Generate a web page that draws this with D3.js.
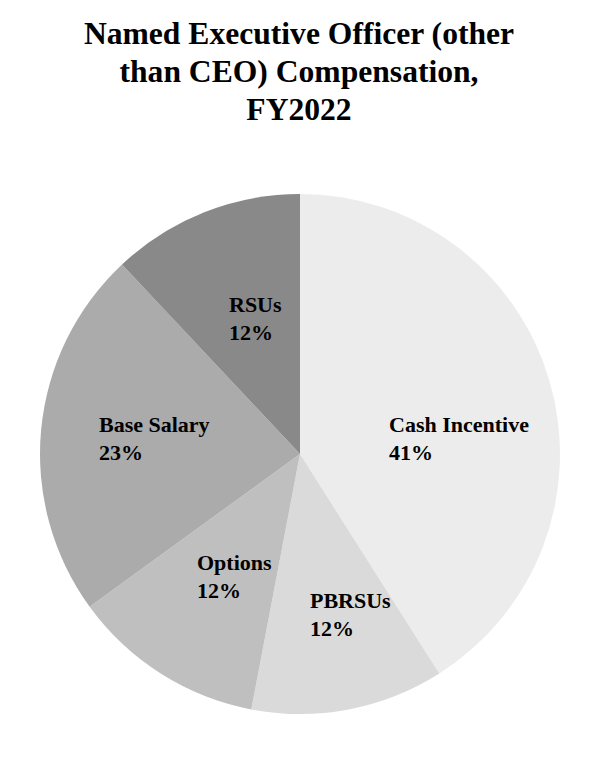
<!DOCTYPE html>
<html>
<head>
<meta charset="utf-8">
<script src="https://cdn.jsdelivr.net/npm/d3@7"></script>
<style>
html, body { margin: 0; padding: 0; background: #ffffff; }
svg { display: block; }
</style>
</head>
<body>
<svg id="chart" width="600" height="762"></svg>
<script>
const titleLines = ["Named Executive Officer (other", "than CEO) Compensation,", "FY2022"];
const categories = ["Cash Incentive", "PBRSUs", "Options", "Base Salary", "RSUs"];
const values = [41, 12, 12, 23, 12];
const colors = ["#ececec", "#dadada", "#bfbfbf", "#ababab", "#898989"];
// label anchor points (left edge x, first baseline y) relative to pie centre
const labelOffsets = [[89, -22], [10, 154], [-103, 116], [-201, -22], [-71, -142]];

const svg = d3.select("#chart");
const cx = 300, cy = 454, r = 260;
const font = "'Liberation Serif', 'Times New Roman', serif";

svg.append("g").selectAll("text").data(titleLines).join("text")
  .attr("x", 299).attr("y", (d, i) => 44 + i * 38)
  .attr("text-anchor", "middle")
  .attr("font-family", font).attr("font-weight", "bold").attr("font-size", 31.6)
  .attr("fill", "#000").text(d => d);

const data = categories.map((c, i) => ({ name: c, value: values[i], color: colors[i], off: labelOffsets[i] }));
const pie = d3.pie().value(d => d.value).sort(null);
const arc = d3.arc().innerRadius(0).outerRadius(r);
const g = svg.append("g").attr("transform", `translate(${cx},${cy})`);
const arcs = pie(data);
g.selectAll("path").data(arcs).join("path")
  .attr("d", arc).attr("fill", d => d.data.color);

const lg = g.selectAll("g.lbl").data(arcs).join("g").attr("class", "lbl");
lg.append("text")
  .attr("x", d => d.data.off[0]).attr("y", d => d.data.off[1])
  .attr("font-family", font).attr("font-weight", "bold").attr("font-size", 22)
  .attr("fill", "#000").text(d => d.data.name);
lg.append("text")
  .attr("x", d => d.data.off[0]).attr("y", d => d.data.off[1] + 28)
  .attr("font-family", font).attr("font-weight", "bold").attr("font-size", 22)
  .attr("fill", "#000").text(d => d.data.value + "%");
</script>
</body>
</html>
